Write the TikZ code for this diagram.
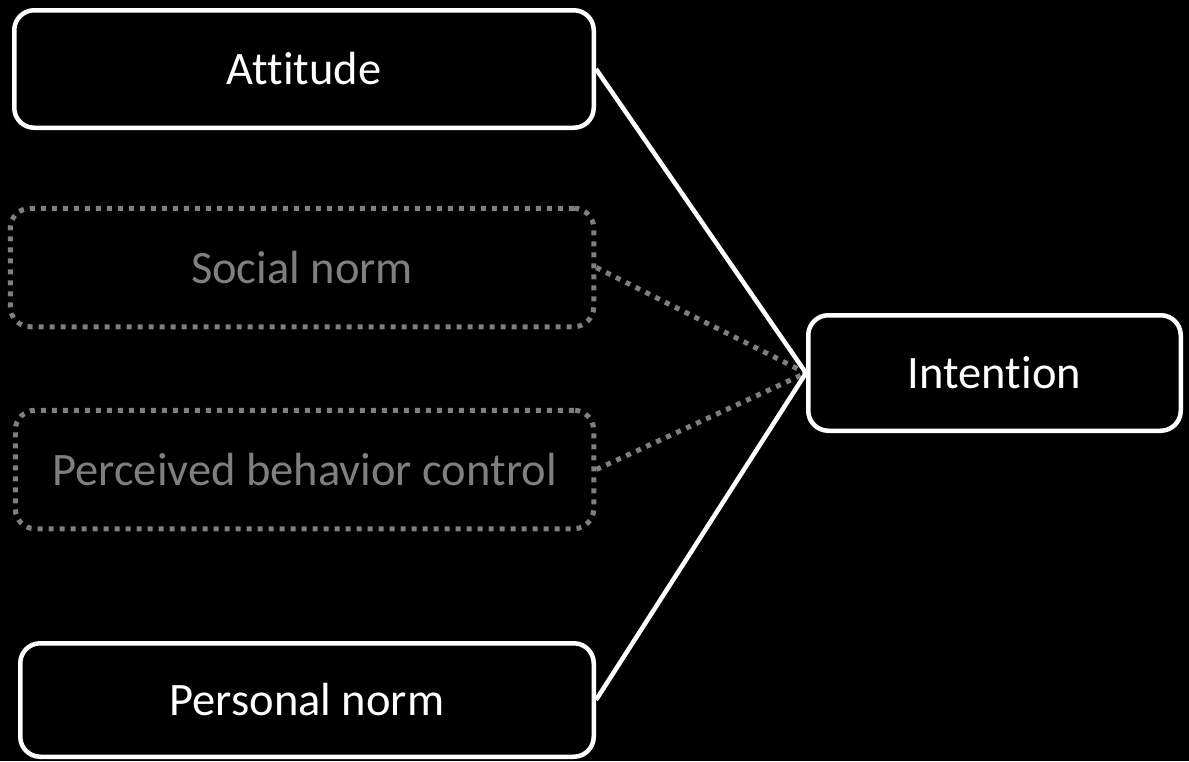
\documentclass[tikz,border=0pt]{standalone}
\usepackage{fontspec}
\setmainfont[Ligatures=NoCommon]{Carlito}
\definecolor{dimgray}{RGB}{127,127,127}
\begin{document}
\begin{tikzpicture}[x=1pt,y=-1pt,
  solidbox/.style={draw=white, line width=4.5pt, rounded corners=20pt, fill=black, text=white, inner sep=0pt, font=\fontsize{46.5}{56}\selectfont},
  dotbox/.style={draw=dimgray, line width=5pt, rounded corners=20pt, dash pattern=on 5pt off 6pt, fill=black, text=dimgray, inner sep=0pt, font=\fontsize{46.5}{56}\selectfont},
  solidlink/.style={draw=white, line width=4.5pt},
  dotlink/.style={draw=dimgray, line width=5pt, dash pattern=on 5pt off 6pt}]
\fill[black] (0,0) rectangle (1189,761);
\useasboundingbox (0,0) rectangle (1189,761);
\node[solidbox, minimum width=579.5pt, minimum height=117.5pt] (att) at (304,69) {\raisebox{-2pt}{Attitude}};
\node[dotbox, minimum width=583.5pt, minimum height=118.5pt] (soc) at (302,267.5) {\raisebox{-2pt}{Social norm}};
\node[dotbox, minimum width=578.5pt, minimum height=118.5pt] (pbc) at (304.5,469.5) {\raisebox{-2pt}{Perceived behavior control}};
\node[solidbox, minimum width=573.5pt, minimum height=113.5pt] (pn) at (307,700) {\raisebox{-2pt}{Personal norm}};
\node[solidbox, minimum width=372.5pt, minimum height=115.5pt] (int) at (994.5,373) {\raisebox{-2pt}{Intention}};
\draw[dotlink] (soc.east) -- (int.west);
\draw[dotlink] (pbc.east) -- (int.west);
\draw[solidlink] (att.east) -- (int.west);
\draw[solidlink] (pn.east) -- (int.west);
\end{tikzpicture}
\end{document}
